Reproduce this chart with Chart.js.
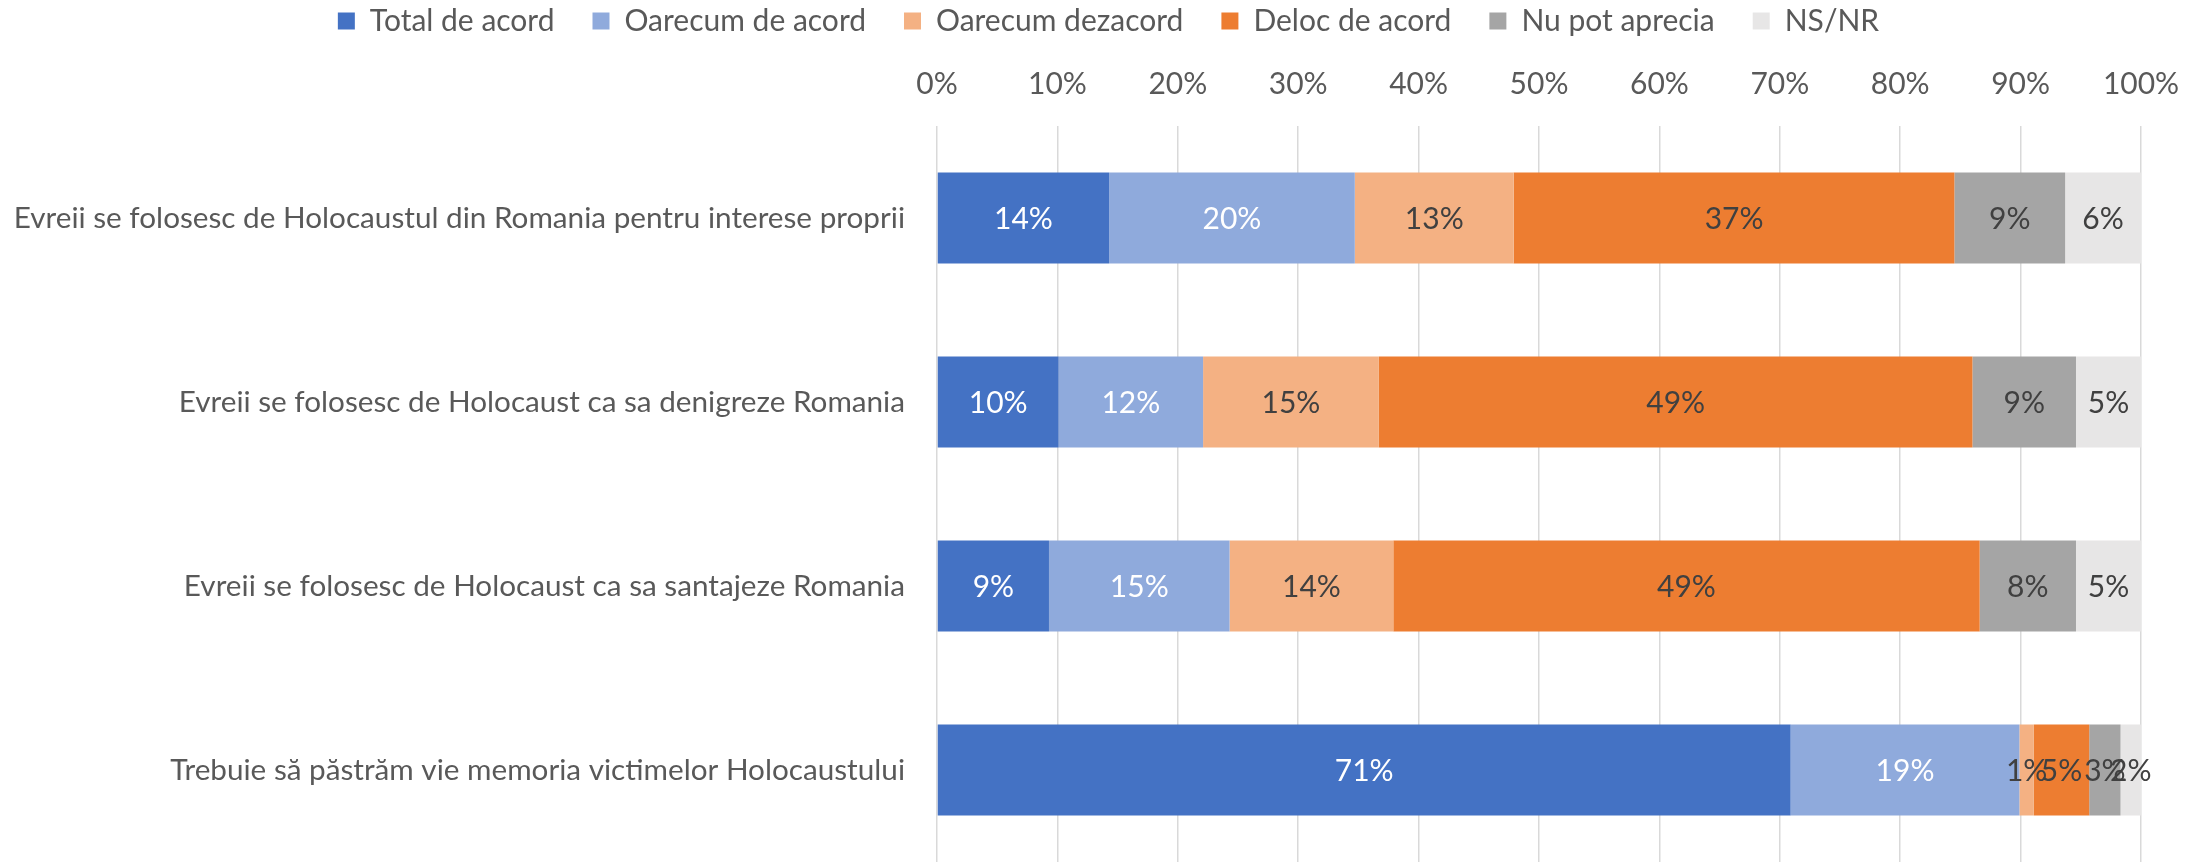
<!DOCTYPE html>
<html><head><meta charset="utf-8">
<script src="https://cdn.jsdelivr.net/npm/chart.js@4.4.1/dist/chart.umd.min.js"></script>
<style>html,body{margin:0;padding:0;background:#fff;} #wrap{width:2201px;height:862px;position:relative;}</style>
</head><body><div id="wrap"><canvas id="c"></canvas></div>
<script>
const categories = [
  "Evreii se folosesc de Holocaustul din Romania pentru interese proprii",
  "Evreii se folosesc de Holocaust ca sa denigreze Romania",
  "Evreii se folosesc de Holocaust ca sa santajeze Romania",
  "Trebuie să păstrăm vie memoria victimelor Holocaustului"
];
const seriesNames = ["Total de acord", "Oarecum de acord", "Oarecum dezacord", "Deloc de acord", "Nu pot aprecia", "NS/NR"];
const totalDeAcord    = [14.3, 10.1, 9.3, 70.9];
const oarecumDeAcord  = [20.4, 12.0, 15.0, 19.0];
const oarecumDezacord = [13.2, 14.6, 13.6, 1.2];
const delocDeAcord    = [36.6, 49.3, 48.7, 4.6];
const nuPotAprecia    = [9.2, 8.6, 8.0, 2.6];
const nsNr            = [6.3, 5.4, 5.4, 1.7];
const tickLabels = ["0%","10%","20%","30%","40%","50%","60%","70%","80%","90%","100%"];

const seriesValues = [totalDeAcord, oarecumDeAcord, oarecumDezacord, delocDeAcord, nuPotAprecia, nsNr];
const colors = ["#4472C4", "#8FAADC", "#F4B183", "#ED7D31", "#A5A5A5", "#E7E6E6"];
const labelColors = ["#FFFFFF", "#FFFFFF", "#404040", "#404040", "#404040", "#404040"];
const FONT = "Lato";
const FS = 30;

const segLabels = {
  id: 'segLabels',
  afterDatasetsDraw(chart) {
    const ctx = chart.ctx;
    ctx.save();
    ctx.font = FS + "px " + FONT;
    ctx.textAlign = 'center';
    ctx.textBaseline = 'middle';
    chart.data.datasets.forEach((ds, di) => {
      const meta = chart.getDatasetMeta(di);
      meta.data.forEach((el, i) => {
        const p = el.getProps(['x', 'base', 'y'], true);
        ctx.fillStyle = labelColors[di];
        ctx.fillText(Math.round(ds.data[i]) + '%', (p.x + p.base) / 2, p.y + 1);
      });
    });
    ctx.restore();
  }
};

function draw() {
  new Chart(document.getElementById('c'), {
    type: 'bar',
    data: {
      labels: categories,
      datasets: seriesNames.map((n, i) => ({
        label: n,
        data: seriesValues[i],
        backgroundColor: colors[i],
        borderWidth: 0,
        categoryPercentage: 1.0,
        barPercentage: 0.495
      }))
    },
    options: {
      indexAxis: 'y',
      responsive: true,
      maintainAspectRatio: false,
      animation: false,
      layout: { padding: { top: -32, right: 0, left: 16, bottom: 0 } },
      plugins: {
        tooltip: { enabled: false },
        legend: {
          position: 'top',
          align: 'center',
          labels: {
            boxWidth: 17, boxHeight: 17, padding: 38,
            color: '#595959',
            font: { family: FONT, size: FS }
          }
        }
      },
      scales: {
        x: {
          position: 'top',
          stacked: true,
          min: 0, max: 100,
          ticks: {
            stepSize: 10,
            padding: 24,
            color: '#595959',
            font: { family: FONT, size: FS },
            callback: (v) => tickLabels[Math.round(v / 10)]
          },
          grid: { color: '#D9D9D9', lineWidth: 1.5, drawTicks: false },
          border: { display: false },
          afterFit: (s) => { s.height = 80; s.paddingLeft = 0; s.paddingRight = 60; }
        },
        y: {
          stacked: true,
          ticks: {
            padding: 24,
            color: '#595959',
            font: { family: FONT, size: 29.7 }
          },
          grid: { display: false },
          border: { display: false },
          afterFit: (s) => { s.width = 921; s.paddingTop = 0; s.paddingBottom = 0; }
        }
      }
    },
    plugins: [segLabels]
  });
}
if (document.fonts && document.fonts.load) {
  document.fonts.load(FS + 'px ' + FONT).then(draw, draw);
} else { draw(); }
</script>
</body></html>
